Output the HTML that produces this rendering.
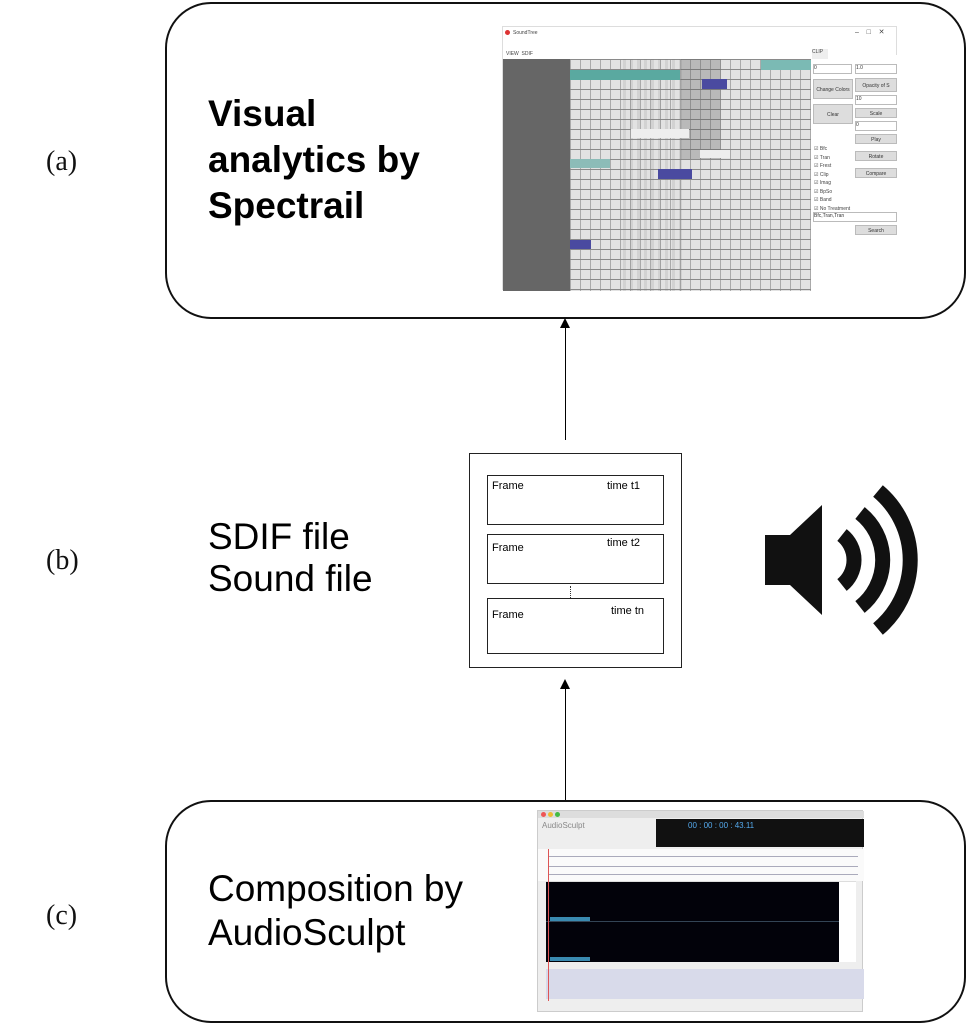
<!DOCTYPE html>
<html><head><style>
body{margin:0;width:966px;height:1024px;background:#fff;position:relative;overflow:hidden;font-family:"Liberation Sans",sans-serif}
.a{position:absolute}
.box{position:absolute;border:2px solid #111;border-radius:46px;box-sizing:border-box}
.lab{position:absolute;font-family:"Liberation Serif",serif;font-size:28px;color:#111}
.frame{position:absolute;left:487px;width:177px;border:1px solid #222;box-sizing:border-box;font-size:11px}
.frame span{position:absolute;top:4px}
.bt{position:absolute;background:#ddd;border:1px solid #bbb;font-size:5px;color:#333;text-align:center;box-sizing:border-box}
</style></head><body>
<div class="box" style="left:165px;top:2px;width:801px;height:317px"></div>
<div class="box" style="left:165px;top:800px;width:801px;height:223px"></div>
<div class="lab" style="left:46px;top:146px">(a)</div>
<div class="lab" style="left:46px;top:545px">(b)</div>
<div class="lab" style="left:46px;top:900px">(c)</div>
<div class="a" style="left:208px;top:91px;font-size:37px;font-weight:bold;line-height:46px;color:#000">Visual<br>analytics by<br>Spectrail</div>
<div class="a" style="left:208px;top:516px;font-size:37px;line-height:42px;color:#000">SDIF file<br>Sound file</div>
<div class="a" style="left:208px;top:867px;font-size:37px;line-height:44px;color:#000">Composition by<br>AudioSculpt</div>

<div class="a" style="left:565px;top:326px;width:1px;height:114px;background:#000"></div>
<div class="a" style="left:560px;top:318px;width:0;height:0;border-left:5px solid transparent;border-right:5px solid transparent;border-bottom:10px solid #000"></div>
<div class="a" style="left:565px;top:688px;width:1px;height:112px;background:#000"></div>
<div class="a" style="left:560px;top:679px;width:0;height:0;border-left:5px solid transparent;border-right:5px solid transparent;border-bottom:10px solid #000"></div>

<div class="a" style="left:469px;top:453px;width:213px;height:215px;border:1px solid #222;box-sizing:border-box"></div>
<div class="frame" style="top:475px;height:50px"><span style="left:4px">Frame</span><span style="left:119px">time t1</span></div>
<div class="frame" style="top:534px;height:50px"><span style="left:4px;top:7px">Frame</span><span style="left:119px;top:2px">time t2</span></div>
<div class="frame" style="top:598px;height:56px"><span style="left:4px;top:10px">Frame</span><span style="left:123px;top:6px">time tn</span></div>
<div class="a" style="left:570px;top:586px;width:0;height:12px;border-left:1px dotted #333"></div>

<svg class="a" style="left:760px;top:485px" width="165" height="150" viewBox="0 0 165 150">
<polygon points="5,50 30,50 62,20 62,130 30,100 5,100" fill="#111"/>
<path d="M82,50 A32,32 0 0 1 82,100" fill="none" stroke="#111" stroke-width="15"/>
<path d="M100,28 A60,60 0 0 1 100,122" fill="none" stroke="#111" stroke-width="15"/>
<path d="M118,6 A90,90 0 0 1 118,144" fill="none" stroke="#111" stroke-width="15"/>
</svg>

<div class="a" style="left:502px;top:26px;width:395px;height:264px;background:#fff;border:1px solid #ddd;box-sizing:border-box;font-size:5px;color:#444">
  <div class="a" style="left:2px;top:3px;width:5px;height:5px;border-radius:50%;background:#d33"></div>
  <div class="a" style="left:10px;top:3px">SoundTree</div>
  <div class="a" style="left:352px;top:1px;font-size:7px">–&nbsp;&nbsp;&nbsp;&nbsp;□&nbsp;&nbsp;&nbsp;&nbsp;✕</div>
  <div class="a" style="left:3px;top:24px">VIEW&nbsp;&nbsp;SDIF</div>
  <div class="a" style="left:0;top:32px;width:67px;height:232px;background:#666"></div>
  <div class="a" style="left:67px;top:32px;width:241px;height:232px;background-color:#e2e2e2;background-image:linear-gradient(#8a8a8a 1px,transparent 1px),linear-gradient(90deg,#aaa 1px,transparent 1px);background-size:100% 10px,10px 100%"></div>
  <div class="a" style="left:120px;top:32px;width:60px;height:232px;background:repeating-linear-gradient(90deg,rgba(120,120,120,.15) 0 3px,transparent 3px 7px)"></div>
  <div class="a" style="left:178px;top:32px;width:40px;height:100px;background:rgba(90,90,90,.3)"></div>
  <div class="a" style="left:67px;top:43px;width:110px;height:10px;background:#5aa9a0"></div>
  <div class="a" style="left:258px;top:33px;width:50px;height:10px;background:#7bbab4"></div>
  <div class="a" style="left:199px;top:52px;width:25px;height:10px;background:#4a4aa0"></div>
  <div class="a" style="left:128px;top:102px;width:58px;height:9px;background:#eee"></div>
  <div class="a" style="left:197px;top:123px;width:30px;height:8px;background:#eee"></div>
  <div class="a" style="left:67px;top:132px;width:40px;height:9px;background:#8cbcb8"></div>
  <div class="a" style="left:155px;top:142px;width:34px;height:10px;background:#4a4aa0"></div>
  <div class="a" style="left:67px;top:213px;width:21px;height:9px;background:#4a4aa0"></div>
  <div class="a" style="left:308px;top:28px;width:87px;height:236px;background:#fff"></div>
  <div class="a" style="left:309px;top:22px;width:16px;height:10px;background:#eee">CLIP</div>
  <div class="bt" style="left:310px;top:37px;width:39px;height:10px;background:#fff;text-align:left">0</div>
  <div class="bt" style="left:352px;top:37px;width:42px;height:10px;background:#fff;text-align:left">1.0</div>
  <div class="bt" style="left:310px;top:52px;width:40px;height:20px;line-height:20px">Change Colors</div>
  <div class="bt" style="left:352px;top:51px;width:42px;height:14px;line-height:14px">Opacity of S</div>
  <div class="bt" style="left:352px;top:68px;width:42px;height:10px;background:#fff;text-align:left">10</div>
  <div class="bt" style="left:310px;top:77px;width:40px;height:20px;line-height:20px">Clear</div>
  <div class="bt" style="left:352px;top:81px;width:42px;height:10px;line-height:10px">Scale</div>
  <div class="bt" style="left:352px;top:94px;width:42px;height:10px;background:#fff;text-align:left">0</div>
  <div class="bt" style="left:352px;top:107px;width:42px;height:10px;line-height:10px">Play</div>
  <div class="bt" style="left:352px;top:124px;width:42px;height:10px;line-height:10px">Rotate</div>
  <div class="bt" style="left:352px;top:141px;width:42px;height:10px;line-height:10px">Compare</div>
  <div class="a" style="left:311px;top:118px;line-height:8.5px">☑ Bfc<br>☑ Tran<br>☑ Frest<br>☑ Clip<br>☑ Imag<br>☑ BpSo<br>☑ Band<br>☑ No Treatment</div>
  <div class="bt" style="left:310px;top:185px;width:84px;height:10px;background:#fff;text-align:left">Bfc,Tran,Tran</div>
  <div class="bt" style="left:352px;top:198px;width:42px;height:10px;line-height:10px">Search</div>
</div>

<div class="a" style="left:537px;top:810px;width:326px;height:202px;background:#eee;border:1px solid #ccc;box-sizing:border-box">
  <div class="a" style="left:0;top:0;width:326px;height:7px;background:#ddd"></div>
  <div class="a" style="left:3px;top:1px;width:5px;height:5px;border-radius:50%;background:#e55"></div>
  <div class="a" style="left:10px;top:1px;width:5px;height:5px;border-radius:50%;background:#eb3"></div>
  <div class="a" style="left:17px;top:1px;width:5px;height:5px;border-radius:50%;background:#4b4"></div>
  <div class="a" style="left:4px;top:10px;font-size:8px;color:#888">AudioSculpt</div>
  <div class="a" style="left:118px;top:8px;width:208px;height:28px;background:#111"></div>
  <div class="a" style="left:150px;top:10px;font-size:8px;color:#5ae">00 : 00 : 00 : 43.11</div>
  <div class="a" style="left:0;top:38px;width:326px;height:32px;background:#fafafa"></div>
  <div class="a" style="left:10px;top:45px;width:310px;height:1px;background:#aab"></div>
  <div class="a" style="left:10px;top:55px;width:310px;height:1px;background:#aab"></div>
  <div class="a" style="left:10px;top:63px;width:310px;height:1px;background:#aab"></div>
  <div class="a" style="left:8px;top:70px;width:310px;height:4px;background:#ddd"></div>
  <div class="a" style="left:8px;top:71px;width:293px;height:80px;background:#02020a"></div>
  <div class="a" style="left:8px;top:110px;width:293px;height:1px;background:#345"></div>
  <div class="a" style="left:12px;top:106px;width:40px;height:4px;background:#3a8ab0"></div>
  <div class="a" style="left:12px;top:146px;width:40px;height:4px;background:#3a8ab0"></div>
  <div class="a" style="left:301px;top:71px;width:17px;height:80px;background:#fff"></div>
  <div class="a" style="left:8px;top:158px;width:318px;height:30px;background:#d8daea"></div>
  <div class="a" style="left:10px;top:38px;width:1px;height:152px;background:#d55"></div>
</div>
</body></html>
